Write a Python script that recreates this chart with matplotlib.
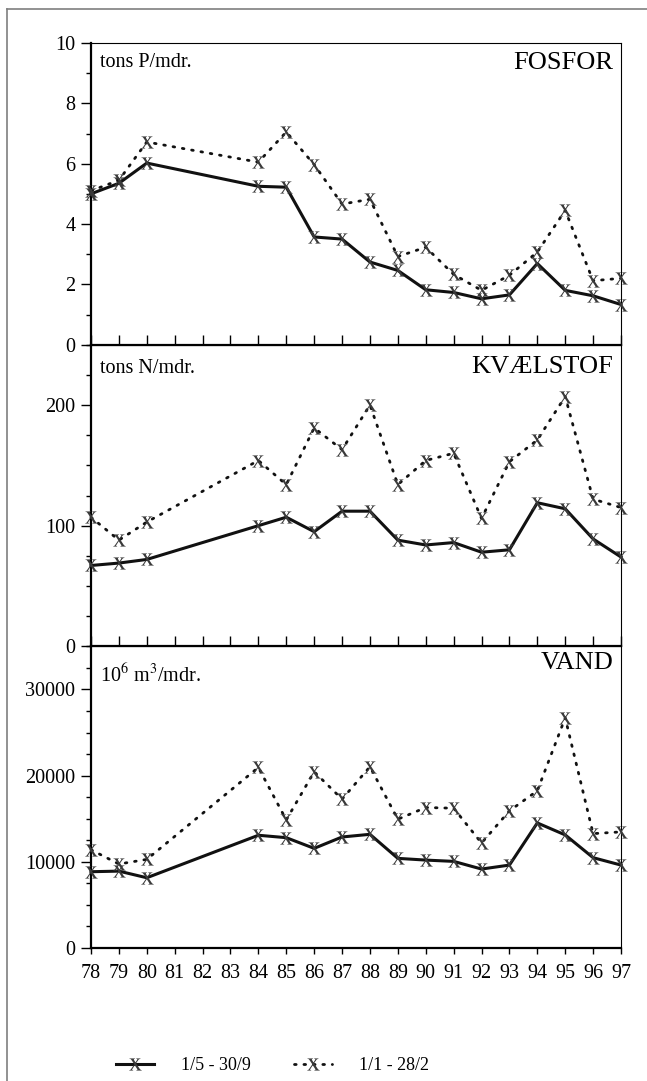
import matplotlib
matplotlib.use("Agg")
import matplotlib.pyplot as plt
from matplotlib.lines import Line2D
from matplotlib.ticker import MultipleLocator

plt.rcParams['font.family'] = ['Liberation Serif', 'DejaVu Serif']
plt.rcParams['mathtext.fontset'] = 'stix'

years = [78, 79, 80, 84, 85, 86, 87, 88, 89, 90, 91, 92, 93, 94, 95, 96, 97]
axis_years = list(range(78, 98))

# summer 1/5 - 30/9 (solid) and winter 1/1 - 28/2 (dotted)
fosfor_summer = [5.0, 5.35, 6.02, 5.25, 5.22, 3.57, 3.5, 2.74, 2.46, 1.82, 1.73, 1.52, 1.65, 2.69, 1.8, 1.62, 1.33]
fosfor_winter = [5.1, 5.45, 6.72, 6.05, 7.05, 5.97, 4.66, 4.82, 2.92, 3.23, 2.33, 1.8, 2.3, 3.07, 4.45, 2.12, 2.2]

kvaelstof_summer = [67, 69, 72, 100, 107, 95, 112, 112, 88, 84, 86, 78, 80, 119, 114, 89, 74]
kvaelstof_winter = [107, 88, 103, 154, 134, 181, 163, 200, 134, 154, 160, 106, 153, 171, 207, 122, 115]

vand_summer = [8850, 8920, 8150, 13080, 12800, 11560, 12880, 13190, 10400, 10200, 10050, 9160, 9620, 14510, 13120, 10480, 9620]
vand_winter = [11400, 9740, 10280, 20950, 14860, 20450, 17270, 21030, 14940, 16300, 16220, 12180, 15910, 18240, 26700, 13270, 13470]

panels = [
    ("FOSFOR", "tons P/mdr.", fosfor_summer, fosfor_winter, 10, 2, 1),
    ("KVÆLSTOF", "tons N/mdr.", kvaelstof_summer, kvaelstof_winter, 250, 100, 25),
    ("VAND", r"10$^6$ m$^3$/mdr.", vand_summer, vand_winter, 35000, 10000, 2500),
]
title_y = [0.935, 0.925, 0.945]
unit_y = [0.935, 0.92, 0.905]

fig = plt.figure(figsize=(6.47, 10.81), dpi=100)

left, right = 91 / 647, 621 / 647
top, bottom = 1 - 43 / 1081, 1 - 948 / 1081
h = (top - bottom) / 3
mk = r'$\mathrm{x}$'
line_col = '#111111'
mk_col = '#3a3a3a'
mstyle = dict(marker=mk, ms=9, mfc=mk_col, mec=mk_col, mew=0)
dots = (0, (0.6, 2.8))

for i, (name, unit, summer, winter, ymax, major, minor) in enumerate(panels):
    ax = fig.add_axes([left, top - (i + 1) * h, right - left, h])
    ax.plot(years, summer, color=line_col, lw=2.2, clip_on=False, zorder=3, **mstyle)
    ax.plot(years, winter, color=line_col, lw=2.0, ls=dots,
            dash_capstyle='round', clip_on=False, zorder=3, **mstyle)
    ax.set_xlim(78, 97)
    ax.set_ylim(0, ymax)
    ax.set_xticks(axis_years)
    ax.yaxis.set_minor_locator(MultipleLocator(minor))
    # the top value is only labelled on the first panel
    ticks = [t for t in range(0, ymax + 1, major) if i == 0 or t < ymax]
    ax.set_yticks(ticks)
    ax.set_yticklabels([str(t) for t in ticks])
    ax.tick_params(axis='y', which='major', length=7.2, width=1.0, labelsize=14.5, pad=4)
    ax.tick_params(axis='y', which='minor', length=3.6, width=1.0)
    if i < 2:
        ax.tick_params(axis='x', direction='in', length=7, width=1.0, labelbottom=False)
    else:
        ax.tick_params(axis='x', direction='out', length=4.5, width=1.0, labelsize=14.5, pad=7)
        ax.set_xticklabels([str(y) for y in axis_years])
    for s in ['left', 'bottom']:
        ax.spines[s].set_linewidth(1.6)
    for s in ['top', 'right']:
        ax.spines[s].set_linewidth(0.8)
    ax.patch.set_alpha(0)
    ax.text(0.985, title_y[i], name, transform=ax.transAxes, ha='right', va='center', fontsize=19)
    ax.text(0.017, unit_y[i], unit, transform=ax.transAxes, ha='left', va='center', fontsize=14.5)

handles = [
    Line2D([], [], color=line_col, lw=2.2, **mstyle),
    Line2D([], [], color=line_col, lw=2.0, ls=dots, dash_capstyle='round', **mstyle),
]
fig.legend(handles, ["1/5 - 30/9", "1/1 - 28/2"], loc='center', bbox_to_anchor=(0.421, 0.0139),
           ncol=2, frameon=False, fontsize=13, numpoints=1, handlelength=2.1,
           handletextpad=1.5, columnspacing=2.4)

# outer frame (top and left edges)
fx, fy = 7 / 647, 1 - 9 / 1081
fig.add_artist(Line2D([fx, 1], [fy, fy], transform=fig.transFigure, color='#7f7f7f', lw=1.2))
fig.add_artist(Line2D([fx, fx], [0, fy], transform=fig.transFigure, color='#7f7f7f', lw=1.2))

fig.savefig("out.png", dpi=100)
